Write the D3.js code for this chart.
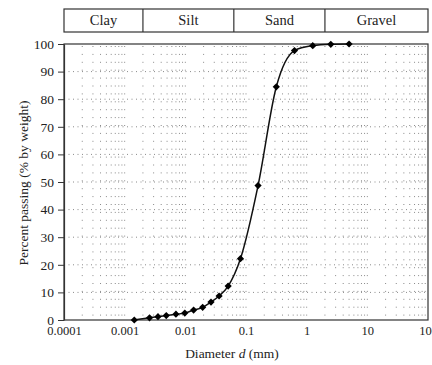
<!DOCTYPE html>
<html>
<head>
<meta charset="utf-8">
<script src="https://cdn.jsdelivr.net/npm/d3@7"></script>
<style>
  body { margin: 0; background: #fff; }
  text { font-family: "Liberation Serif", "DejaVu Serif", serif; fill: #222; }
</style>
</head>
<body>
<div id="chart"></div>
<script>
// grain size data
const diameters = [5, 2.5, 1.26, 0.63, 0.316, 0.158, 0.081, 0.0508, 0.036, 0.0265,
                   0.0193, 0.0137, 0.0098, 0.007, 0.00485, 0.00354, 0.00257, 0.00144];
const passing = [100, 99.9, 99.4, 97.6, 84.5, 48.7, 22.2, 12.3, 8.7, 6.5,
                 4.6, 3.6, 2.5, 2.1, 1.6, 1.2, 0.8, 0];

// soil classes and their limits (mm)
const classes = ["Clay", "Silt", "Sand", "Gravel"];
const limits = [0.0001, 0.002, 0.063, 2, 100];

const xTicks = [0.0001, 0.001, 0.01, 0.1, 1, 10, 100];
const xTickLabels = ["0.0001", "0.001", "0.01", "0.1", "1", "10", "100"];
const yTicks = [0, 10, 20, 30, 40, 50, 60, 70, 80, 90, 100];

const W = 432, H = 365;
const plot = {left: 64, right: 428, top: 44, bottom: 320};

const svg = d3.select("#chart")
    .append("svg")
    .attr("width", W)
    .attr("height", H);

const x = d3.scaleLog().domain([0.0001, 100]).range([plot.left, plot.right]);
const y = d3.scaleLinear().domain([0, 100]).range([plot.bottom, plot.top]);

/* dotted grid */
const minor = [];
for (let e = -4; e < 2; e++) {
    for (let k = 1; k <= 9; k++) {
        if (e === -4 && k === 1) continue;
        minor.push(k * Math.pow(10, e));
    }
}
svg.append("g")
    .selectAll("line")
    .data(minor)
    .join("line")
    .attr("x1", d => x(d))
    .attr("x2", d => x(d))
    .attr("y1", plot.top + 2)
    .attr("y2", plot.bottom)
    .attr("stroke", "#8a8a8a")
    .attr("stroke-width", 1)
    .attr("stroke-dasharray", "1,6.9");

svg.append("g")
    .selectAll("line")
    .data(yTicks.slice(1, -1))
    .join("line")
    .attr("x1", plot.left)
    .attr("x2", plot.right)
    .attr("y1", d => y(d))
    .attr("y2", d => y(d))
    .attr("stroke", "#8a8a8a")
    .attr("stroke-width", 1)
    .attr("stroke-dasharray", "1,3.5");

/* frame */
svg.append("rect")
    .attr("x", plot.left)
    .attr("y", plot.top)
    .attr("width", plot.right - plot.left)
    .attr("height", plot.bottom - plot.top)
    .attr("fill", "none")
    .attr("stroke", "#333")
    .attr("stroke-width", 1.2);

/* axes */
const xAxis = svg.append("g")
    .attr("transform", `translate(0,${plot.bottom})`)
    .call(d3.axisBottom(x).tickValues(xTicks)
        .tickFormat((d, i) => xTickLabels[i])
        .tickSize(0).tickPadding(6));
xAxis.select(".domain").remove();
xAxis.selectAll("text")
    .attr("font-size", "12.5px")
    .attr("fill", "#222")
    .style("font-family", "Liberation Serif");

const yAxis = svg.append("g")
    .attr("transform", `translate(${plot.left},0)`)
    .call(d3.axisLeft(y).tickValues(yTicks).tickSizeInner(6).tickSizeOuter(0).tickPadding(4));
yAxis.select(".domain").attr("stroke", "#333").attr("stroke-width", 1.2);
yAxis.selectAll(".tick line").attr("stroke", "#333");
yAxis.selectAll("text")
    .attr("font-size", "13.5px")
    .attr("fill", "#222")
    .style("font-family", "Liberation Serif");

/* axis titles */
svg.append("text")
    .attr("transform", "translate(28,183) rotate(-90)")
    .attr("text-anchor", "middle")
    .attr("font-size", "13.5px")
    .text("Percent passing (% by weight)");

const xt = svg.append("text")
    .attr("x", 232)
    .attr("y", 358)
    .attr("text-anchor", "middle")
    .attr("font-size", "13.5px");
xt.append("tspan").text("Diameter ");
xt.append("tspan").attr("font-style", "italic").text("d");
xt.append("tspan").text(" (mm)");

/* soil class band */
const band = svg.append("g");
band.append("rect")
    .attr("x", plot.left)
    .attr("y", 9)
    .attr("width", plot.right - plot.left)
    .attr("height", 23)
    .attr("fill", "none")
    .attr("stroke", "#333")
    .attr("stroke-width", 1.2);
band.selectAll("line")
    .data(limits.slice(1, -1))
    .join("line")
    .attr("x1", d => x(d))
    .attr("x2", d => x(d))
    .attr("y1", 9)
    .attr("y2", 32)
    .attr("stroke", "#333")
    .attr("stroke-width", 1.2);
band.selectAll("text")
    .data(classes)
    .join("text")
    .attr("x", (d, i) => (x(limits[i]) + x(limits[i + 1])) / 2)
    .attr("y", 25)
    .attr("text-anchor", "middle")
    .attr("font-size", "14.5px")
    .text(d => d);

/* grading curve */
const pts = diameters.map((d, i) => ({d: d, p: passing[i]}))
    .sort((a, b) => a.d - b.d);

svg.append("path")
    .datum(pts)
    .attr("fill", "none")
    .attr("stroke", "#111")
    .attr("stroke-width", 1.5)
    .attr("d", d3.line()
        .x(d => x(d.d))
        .y(d => y(d.p))
        .curve(d3.curveMonotoneX));

svg.append("g")
    .selectAll("path")
    .data(pts)
    .join("path")
    .attr("transform", d => `translate(${x(d.d)},${y(d.p)}) rotate(45)`)
    .attr("d", d3.symbol().type(d3.symbolSquare).size(26))
    .attr("fill", "#000");
</script>
</body>
</html>
